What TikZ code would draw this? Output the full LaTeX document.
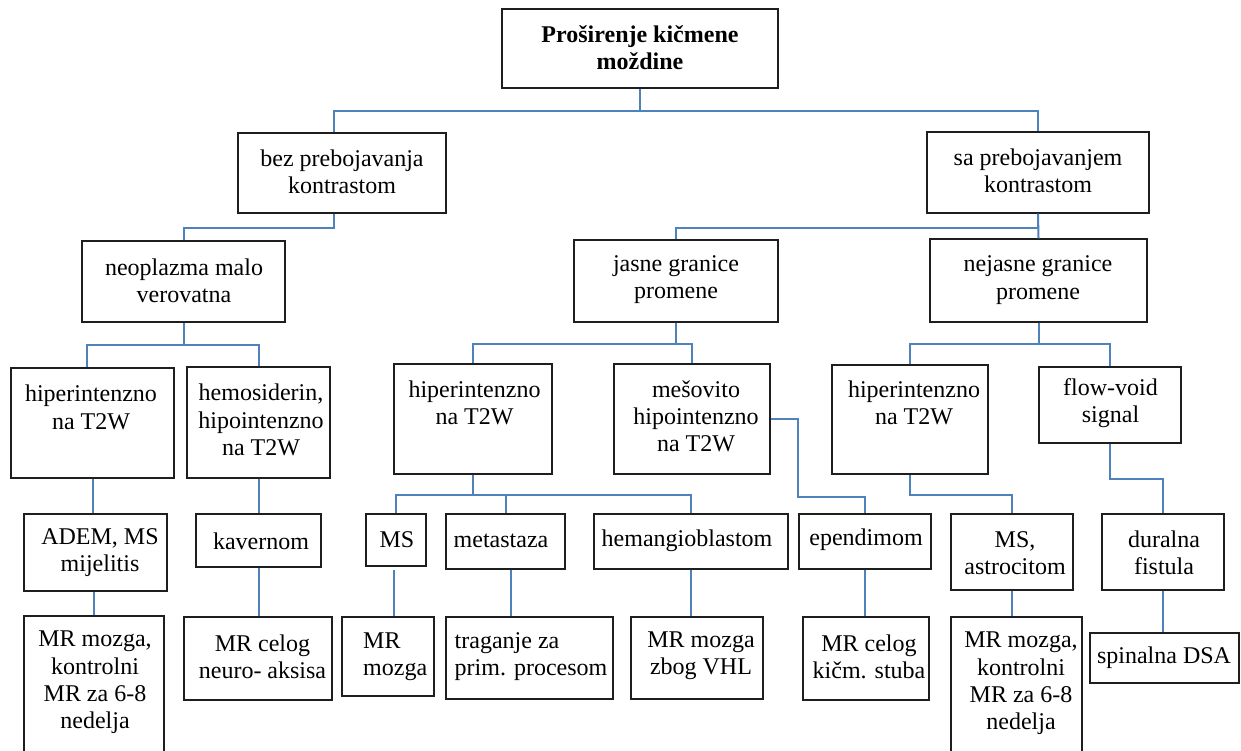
\documentclass[tikz,border=0pt]{standalone}
\usepackage{fontspec}
\setmainfont{Liberation Serif}
\usetikzlibrary{fit}
\definecolor{connblue}{RGB}{79,129,189}
\definecolor{boxline}{RGB}{30,30,30}
\tikzset{
  box/.style={draw=boxline, line width=1.3pt, inner sep=0pt, rectangle},
  txt/.style={inner sep=0pt, align=center, font=\fontsize{24}{27.3}\selectfont},
  txtl/.style={inner sep=0pt, align=left, anchor=west, font=\fontsize{24}{27.3}\selectfont},
  conn/.style={draw=connblue, line width=2pt}
}
\begin{document}
\begin{tikzpicture}[x=1pt,y=-1pt]
\useasboundingbox (0,0) rectangle (1241,751);
\clip (0,0) rectangle (1241,751);
\fill[white] (0,0) rectangle (1241,751);
% boxes
\node[box, fit={(502,9) (778,88)}] (root) {};
\node[box, fit={(238,133) (446,213)}] (bez) {};
\node[box, fit={(927,132) (1149,213)}] (sa) {};
\node[box, fit={(82,241) (285,322)}] (neo) {};
\node[box, fit={(574,240) (778,322)}] (jas) {};
\node[box, fit={(930,239) (1147,322)}] (nej) {};
\node[box, fit={(11,368) (174,478)}] (h1) {};
\node[box, fit={(187,367) (330,478)}] (hemo) {};
\node[box, fit={(394,364) (552,474)}] (h2) {};
\node[box, fit={(614,364) (770,474)}] (meso) {};
\node[box, fit={(832,365) (988,474)}] (h3) {};
\node[box, fit={(1039,367) (1181,443)}] (flow) {};
\node[box, fit={(24,514) (167,591)}] (adem) {};
\node[box, fit={(196,514) (321,567)}] (kav) {};
\node[box, fit={(366,514) (426,566)}] (ms) {};
\node[box, fit={(446,514) (565,569)}] (meta) {};
\node[box, fit={(594,514) (788,569)}] (hem) {};
\node[box, fit={(799,514) (931,569)}] (ep) {};
\node[box, fit={(951,514) (1073,590)}] (msa) {};
\node[box, fit={(1102,514) (1224,590)}] (dur) {};
\node[box, fit={(24,616) (164,790)}] (mr1) {};
\node[box, fit={(184,617) (332,700)}] (mr2) {};
\node[box, fit={(342,617) (434,696)}] (mrm) {};
\node[box, fit={(446,617) (613,699)}] (trag) {};
\node[box, fit={(631,617) (763,699)}] (vhl) {};
\node[box, fit={(803,617) (929,700)}] (mrc) {};
\node[box, fit={(951,617) (1082,790)}] (mr3) {};
\node[box, fit={(1090,633) (1239,683)}] (dsa) {};
% texts
\node[txt, font=\fontsize{24}{27.3}\selectfont\bfseries] (t-root) at (640,48) {Proširenje kičmene\\moždine};
\node[txt] (t-bez) at (342,172) {bez prebojavanja\\kontrastom};
\node[txt] (t-sa) at (1038,171) {sa prebojavanjem\\kontrastom};
\node[txt] (t-neo) at (184,280.5) {neoplazma malo\\verovatna};
\node[txt] (t-jas) at (676,279.5) {jasne granice\\promene};
\node[txt] (t-nej) at (1038,280) {nejasne granice\\promene};
\node[txt] (t-h1) at (91,407.5) {hiperintenzno\\na T2W};
\node[txt] (t-hemo) at (261,420) {hemosiderin,\\hipointenzno\\na T2W};
\node[txt] (t-h2) at (474.5,403) {hiperintenzno\\na T2W};
\node[txt] (t-meso) at (696,416.5) {mešovito\\hipointenzno\\na T2W};
\node[txt] (t-h3) at (914,403) {hiperintenzno\\na T2W};
\node[txt] (t-flow) at (1110.5,403) {flow-void\\signal};
\node[txt] (t-adem) at (100,552.5) {ADEM, MS\\mijelitis};
\node[txt] (t-kav) at (261,541) {kavernom};
\node[txt] (t-ms) at (397,540) {MS};
\node[txt] (t-meta) at (501,541) {metastaza};
\node[txt] (t-hem) at (687,541) {hemangioblastom};
\node[txt] (t-ep) at (866,540) {ependimom};
\node[txt] (t-msa) at (1015,553) {MS,\\astrocitom};
\node[txt] (t-dur) at (1164,553) {duralna\\fistula};
\node[txt] (t-mr1) at (95,682.5) {MR mozga,\\kontrolni\\MR za 6-8\\nedelja};
\node[txt] (t-mr2) at (262.5,656.5) {MR celog\\neuro- aksisa};
\node[txtl] (t-mrm) at (363,656.5) {MR\\mozga};
\node[txtl] (t-trag) at (454.5,656.5) {traganje za\\prim. procesom};
\node[txt] (t-vhl) at (701,656) {MR mozga\\zbog VHL};
\node[txt] (t-mrc) at (869,656.5) {MR celog\\kičm. stuba};
\node[txt] (t-mr3) at (1021,683.5) {MR mozga,\\kontrolni\\MR za 6-8\\nedelja};
\node[txt] (t-dsa) at (1164,658) {spinalna DSA};
% connectors
\draw[conn] (root.south) -- ++(0,22) -| ([xshift=-8pt]bez.north);
\draw[conn] (root.south) -- ++(0,22) -| (sa.north);
\draw[conn] ([xshift=-8pt]bez.south) -- ++(0,14) -| (neo.north);
\draw[conn] (neo.south) -- ++(0,22) -| ([xshift=-5.5pt]h1.north);
\draw[conn] (neo.south) -- ++(0,22) -| (hemo.north);
\draw[conn] (h1.south) -- (h1.south |- adem.north);
\draw[conn] (mr1.north |- adem.south) -- (mr1.north);
\draw[conn] (hemo.south) -- (hemo.south |- kav.north);
\draw[conn] (kav.south) -- (kav.south |- mr2.north);
\draw[conn] (sa.south) -- ++(0,14) -| (jas.north);
\draw[conn] (sa.south) -- (nej.north);
\draw[conn] (jas.south) -- ++(0,21) -| (h2.north);
\draw[conn] (jas.south) -- ++(0,21) -| (meso.north);
\draw[conn] (nej.south) -- ++(0,21) -| (h3.north);
\draw[conn] (nej.south) -- ++(0,21) -| (flow.north);
\draw[conn] (h2.south) -- ++(0,20) -| (ms.north);
\draw[conn] (h2.south) -- ++(0,20) -| (meta.north);
\draw[conn] (h2.south) -- ++(0,20) -| (hem.north);
\draw[conn] ([xshift=-2pt,yshift=-3pt]ms.south) -- ([xshift=-2pt]ms.south |- mrm.north);
\draw[conn] ([xshift=5.5pt]meta.south) -- ([xshift=5.5pt]meta.south |- trag.north);
\draw[conn] (hem.south) -- (hem.south |- vhl.north);
\draw[conn] (meso.east) -- ++(27,0) -- ++(0,78) -| (ep.north);
\draw[conn] (ep.south) -- (ep.south |- mrc.north);
\draw[conn] (h3.south) -- ++(0,20) -| (msa.north);
\draw[conn] (msa.south) -- (msa.south |- mr3.north);
\draw[conn] (flow.south) -- ++(0,35) -| (dur.north);
\draw[conn] (dur.south) -- (dur.south |- dsa.north);
\end{tikzpicture}
\end{document}
